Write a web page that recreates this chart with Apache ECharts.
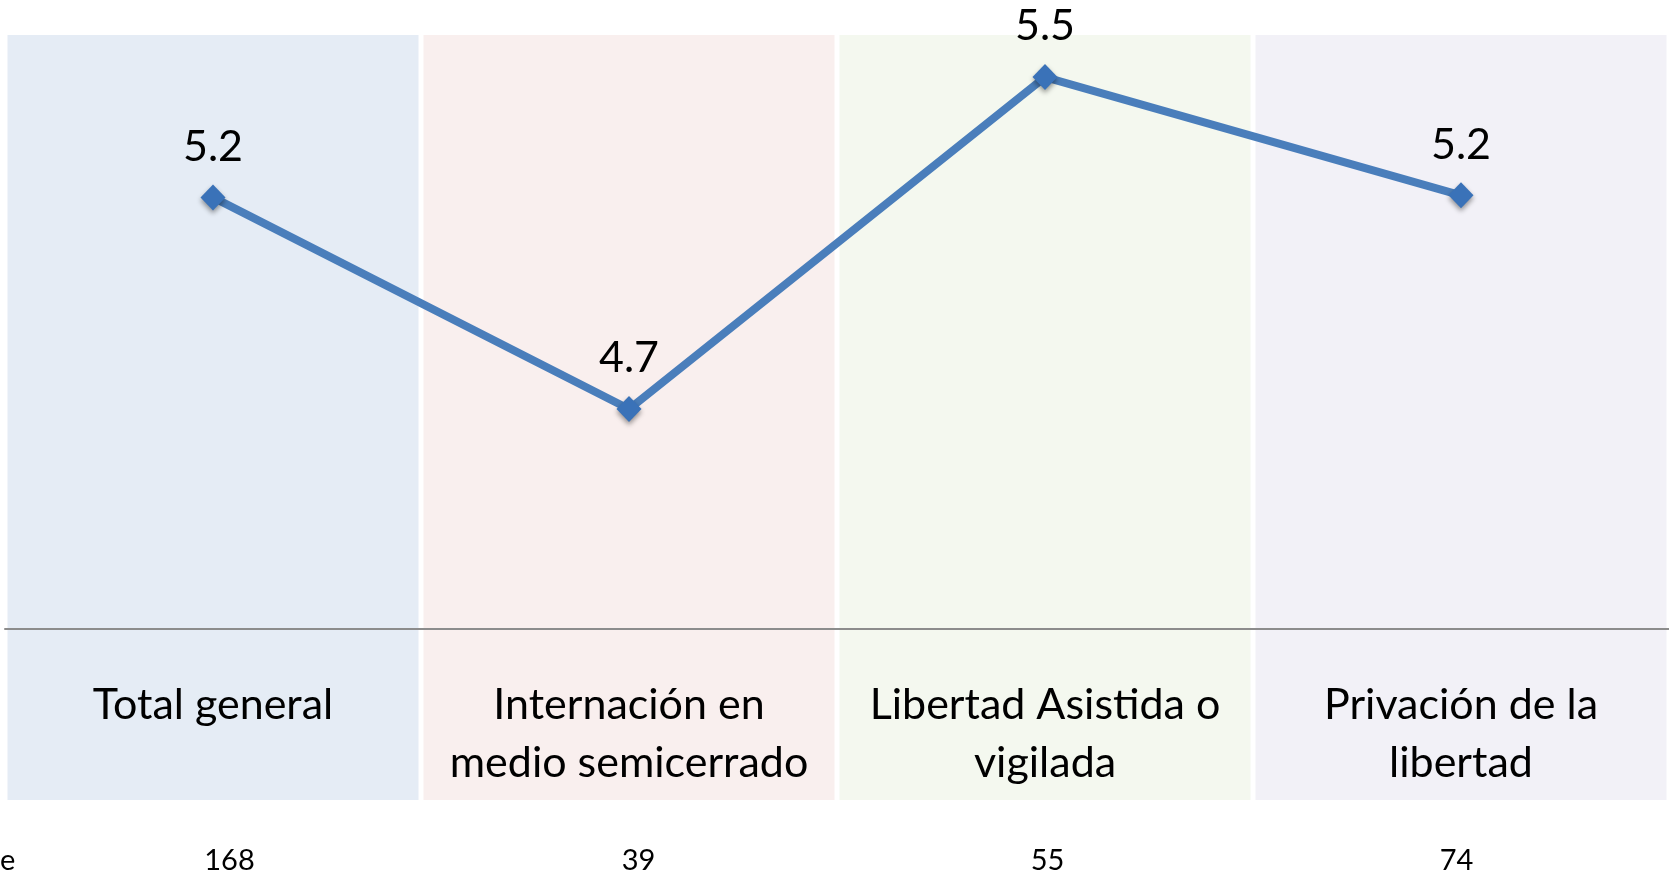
<!DOCTYPE html>
<html>
<head>
<meta charset="utf-8">
<script src="https://cdn.jsdelivr.net/npm/echarts@6/dist/echarts.min.js"></script>
<style>
html,body{margin:0;padding:0;background:#fff;}
#chart{width:1669px;height:876px;}
</style>
</head>
<body>
<div id="chart"></div>
<script>
const categories = ['Total general', 'Internación en\nmedio semicerrado', 'Libertad Asistida o\nvigilada', 'Privación de la\nlibertad'];
const values = [5.24, 4.73, 5.53, 5.245];
const counts = ['168', '39', '55', '74'];
const panelColors = ['#E5ECF5', '#F9EFEE', '#F4F8EF', '#F2F1F7'];
const panelValues = [1, 1, 1, 1];

const FONT = 'Lato';
const chart = echarts.init(document.getElementById('chart'));
chart.setOption({
  backgroundColor: '#ffffff',
  animation: false,
  textStyle: { fontFamily: FONT },
  grid: [
    { left: 5, right: 0, top: 35, bottom: 76 },
    { left: 5, right: 0, top: 48, bottom: 247 },
    { left: 25, right: 8, top: 48, bottom: 247 }
  ],
  xAxis: [
    { type: 'category', gridIndex: 0, data: categories, show: false },
    {
      type: 'category', gridIndex: 1, data: categories, z: 10,
      axisLine: { show: true, lineStyle: { color: '#8C8C8C', width: 2 } },
      axisTick: { show: false },
      axisLabel: { color: '#000', fontSize: 43, lineHeight: 58, margin: 47, interval: 0, fontFamily: FONT }
    },
    {
      type: 'category', gridIndex: 2, data: counts, position: 'bottom',
      axisLine: { show: false }, axisTick: { show: false },
      axisLabel: { color: '#000', fontSize: 29, margin: 217, interval: 0, fontFamily: FONT }
    }
  ],
  yAxis: [
    { type: 'value', gridIndex: 0, min: 0, max: 1, show: false },
    { type: 'value', gridIndex: 1, min: 4.2, max: 5.6, show: false },
    { type: 'value', gridIndex: 2, min: 0, max: 1, show: false }
  ],
  graphic: [
    { type: 'text', left: 0, top: 846, style: { text: 'e', fontSize: 29, fill: '#000', fontFamily: FONT } }
  ],
  series: [
    {
      type: 'bar', xAxisIndex: 0, yAxisIndex: 0, z: 0,
      barWidth: '98.8%', silent: true,
      data: panelValues.map((v, i) => ({ value: v, itemStyle: { color: panelColors[i] } }))
    },
    {
      type: 'line', xAxisIndex: 1, yAxisIndex: 1, z: 5,
      data: values,
      symbol: 'diamond', symbolSize: [25, 26],
      lineStyle: { color: '#4A7EBB', width: 8 },
      itemStyle: { color: '#3A72B8', shadowBlur: 5, shadowColor: 'rgba(0,0,0,0.4)', shadowOffsetY: 3 },
      label: {
        show: true, position: 'top', distance: 16,
        fontSize: 43, color: '#000', fontFamily: FONT,
        formatter: p => p.value.toFixed(1)
      }
    }
  ]
});
</script>
</body>
</html>
